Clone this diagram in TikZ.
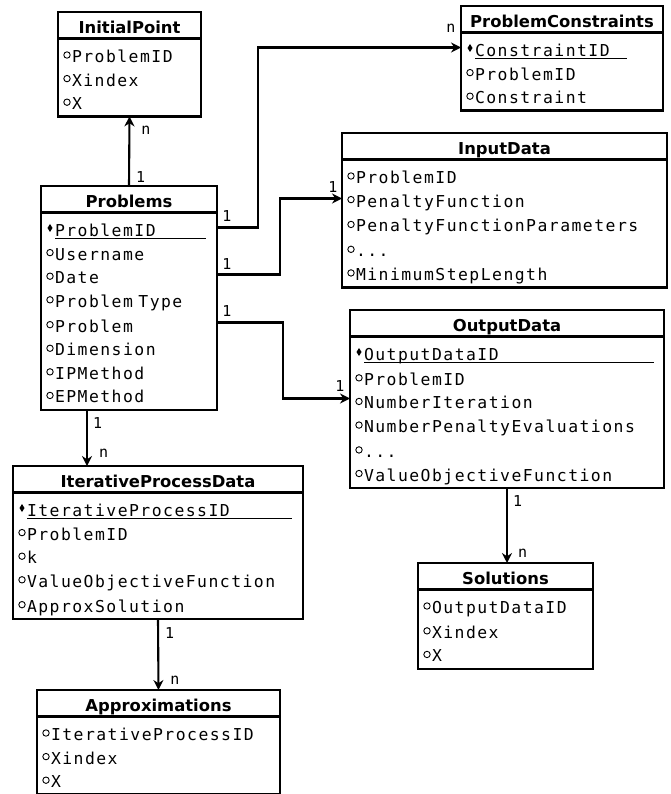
\documentclass[tikz,border=0pt]{standalone}
\usepackage{fontspec}
\usetikzlibrary{arrows.meta}
\newfontfamily\headfont{DejaVu Sans}
\newfontfamily\attrfont[LetterSpace=9]{DejaVu Sans Mono}
\newfontfamily\cardfont{DejaVu Sans Mono}

% one row of a table: fixed pitch, marker in front
\newcommand{\rowstrut}{\rule[-3.15pt]{0pt}{23.6pt}}
\newcommand{\att}[1]{\makebox[10pt][c]{\tikz[baseline=-7.5pt]\draw[line width=0.9pt] (0pt,0pt) circle (3.2pt);}#1\rowstrut}
\newcommand{\pkey}[2]{\makebox[10pt][c]{\tikz[baseline=-8.5pt]\fill (0pt,4pt) -- (2.5pt,0pt) -- (0pt,-4pt) -- (-2.5pt,0pt) -- cycle;}\rlap{\rule[-2pt]{#2}{0.9pt}}#1\rowstrut}

\tikzset{
    enthead/.style={draw, line width=2.3pt, outer sep=0pt, anchor=north west,
        inner sep=0pt, minimum height=26.5pt, text height=16pt, text depth=0pt,
        font=\headfont\bfseries\fontsize{16.4}{20}\selectfont},
    entattr/.style={draw, line width=2.3pt, outer sep=0pt, anchor=north west,
        inner xsep=4pt, inner ysep=3.55pt, align=left,
        font=\attrfont\fontsize{16.4}{23.6}\selectfont},
    rel/.style={line width=2.1pt, -{Stealth[length=10pt,width=10pt]}},
    card/.style={font=\cardfont\fontsize{15}{15}\selectfont, inner sep=0pt},
}

\begin{document}
\begin{tikzpicture}[x=1pt, y=-1pt]
    \useasboundingbox (0,0) rectangle (670,794);

    % Tables
    \node(initial)[enthead, minimum width=143pt] at (58,12) {InitialPoint};
    \node(initial-attr)[entattr, text width=135pt] at (initial.south west)
        {\att{ProblemID}\\\att{Xindex}\\\att{X}};

    \node(problems)[enthead, minimum width=176pt] at (41,186) {Problems};
    \node(problems-attr)[entattr, text width=168pt] at (problems.south west)
        {\pkey{ProblemID}{151pt}\\\att{Username}\\\att{Date}\\\att{Problem Type}\\
         \att{Problem}\\\att{Dimension}\\\att{IPMethod}\\\att{EPMethod}};

    \node(constraints)[enthead, minimum width=202pt] at (461,6) {ProblemConstraints};
    \node(constraints-attr)[entattr, text width=194pt] at (constraints.south west)
        {\pkey{ConstraintID}{152pt}\\\att{ProblemID}\\\att{Constraint}};

    \node(input)[enthead, minimum width=325pt] at (342,133) {InputData};
    \node(input-attr)[entattr, text width=317pt] at (input.south west)
        {\att{ProblemID}\\\att{PenaltyFunction}\\\att{PenaltyFunctionParameters}\\
         \att{...}\\\att{MinimumStepLength}};

    \node(output)[enthead, minimum width=314pt] at (350,310) {OutputData};
    \node(output-attr)[entattr, text width=306pt] at (output.south west)
        {\pkey{OutputDataID}{290pt}\\\att{ProblemID}\\\att{NumberIteration}\\
         \att{NumberPenaltyEvaluations}\\\att{...}\\\att{ValueObjectiveFunction}};

    \node(iterative)[enthead, minimum width=290pt] at (13,466) {IterativeProcessData};
    \node(iterative-attr)[entattr, text width=282pt] at (iterative.south west)
        {\pkey{IterativeProcessID}{265pt}\\\att{ProblemID}\\\att{k}\\
         \att{ValueObjectiveFunction}\\\att{ApproxSolution}};

    \node(approx)[enthead, minimum width=243pt] at (37,690) {Approximations};
    \node(approx-attr)[entattr, text width=235pt] at (approx.south west)
        {\att{IterativeProcessID}\\\att{Xindex}\\\att{X}};

    \node(solutions)[enthead, minimum width=175pt] at (418,563) {Solutions};
    \node(solutions-attr)[entattr, text width=167pt] at (solutions.south west)
        {\att{OutputDataID}\\\att{Xindex}\\\att{X}};

    % Relations going up and down
    \draw[rel] (problems.north)
        -- node(ip-one)[card, pos=0.13, right=6pt] {1}
           node(ip-n)[card, pos=0.8, right=11pt] {n} (initial-attr.south);
    \coordinate(iter-start) at ([xshift=46pt]problems-attr.south west);
    \draw[rel] (iter-start)
        -- node(it-one)[card, pos=0.23, right=5pt] {1}
           node(it-n)[card, pos=0.77, right=11pt] {n} (iter-start |- iterative.north);
    \draw[rel] (iterative-attr.south)
        -- node(ap-one)[card, pos=0.19, right=6pt] {1}
           node(ap-n)[card, pos=0.86, right=11pt] {n} (approx.north);
    \draw[rel] (output-attr.south)
        -- node(so-one)[card, pos=0.17, right=5pt] {1}
           node(so-n)[card, pos=0.87, right=10pt] {n} (output-attr.south |- solutions.north);

    % Relations going right
    \coordinate(con-from) at ([yshift=-15pt]problems-attr.north east);
    \coordinate(con-to)   at ([yshift=-15pt]constraints-attr.north west);
    \coordinate(con-bend) at (258,0);
    \draw[rel] (con-from) -- (con-from -| con-bend) |- (con-to);
    \node(con-one)[card] at ([shift={(10pt,11pt)}]con-from) {1};
    \node(con-n)  [card] at ([shift={(-10pt,19pt)}]con-to) {n};

    \coordinate(in-from) at ([yshift=-62pt]problems-attr.north east);
    \coordinate(in-to)   at ([yshift=-39pt]input-attr.north west);
    \coordinate(in-bend) at (280,0);
    \draw[rel] (in-from) -- (in-from -| in-bend) |- (in-to);
    \node(in-one)[card] at ([shift={(10pt,10pt)}]in-from) {1};
    \node(in-n)  [card] at ([shift={(-9pt,11pt)}]in-to) {1};

    \coordinate(out-from) at ([yshift=-110pt]problems-attr.north east);
    \coordinate(out-to)   at ([yshift=-62pt]output-attr.north west);
    \coordinate(out-bend) at (283,0);
    \draw[rel] (out-from) -- (out-from -| out-bend) |- (out-to);
    \node(out-one)[card] at ([shift={(10pt,11pt)}]out-from) {1};
    \node(out-n)  [card] at ([shift={(-10pt,12pt)}]out-to) {1};
\end{tikzpicture}
\end{document}
